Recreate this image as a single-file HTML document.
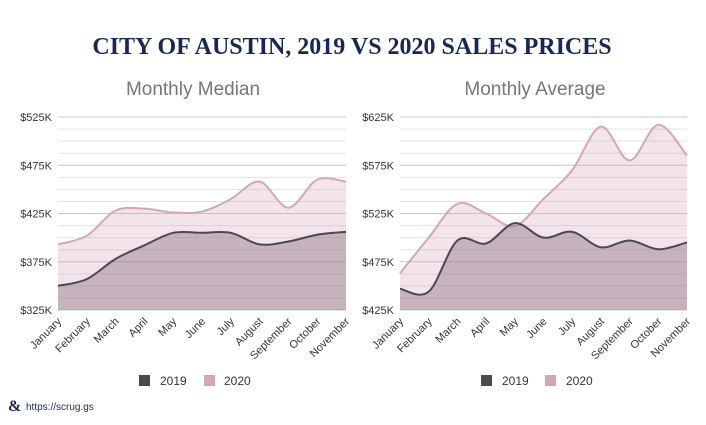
<!DOCTYPE html>
<html><head><meta charset="utf-8"><style>
body{margin:0;width:706px;height:420px;background:#fff;overflow:hidden;font-family:"Liberation Sans",sans-serif}
</style></head><body>
<svg id="s" width="706" height="420" xmlns="http://www.w3.org/2000/svg">
<text x="352" y="54" text-anchor="middle" font-family="Liberation Serif,serif" font-weight="bold" font-size="24" fill="#16275a">CITY OF AUSTIN, 2019 VS 2020 SALES PRICES</text>
<text x="193" y="95" text-anchor="middle" font-size="19" fill="#777">Monthly Median</text>
<text x="535" y="95" text-anchor="middle" font-size="19" fill="#777">Monthly Average</text>
<g>
<rect x="139" y="375" width="11" height="11" fill="#4a4850"/>
<text x="160" y="385" font-size="12" fill="#333">2019</text>
<rect x="204" y="375" width="11" height="11" fill="#d4a6bb"/>
<text x="224" y="385" font-size="12" fill="#333">2020</text>
<rect x="481" y="375" width="11" height="11" fill="#4a4850"/>
<text x="502" y="385" font-size="12" fill="#333">2019</text>
<rect x="545" y="375" width="11" height="11" fill="#d4a6bb"/>
<text x="566" y="385" font-size="12" fill="#333">2020</text>
</g>
<text x="8" y="411" font-family="Liberation Serif,serif" font-weight="bold" font-size="16" fill="#16275a">&amp;</text>
<text x="26" y="410" font-size="10" fill="#16275a">https://scrug.gs</text>
</svg>
<script>
const months=["January","February","March","April","May","June","July","August","September","October","November"];
const median2019=[350,357,378,392,405,405,405,393,396,403,406];
const median2020=[393,402,428,430,426,427,440,458,431,460,458];
const avg2019=[447,444,497,494,515,500,506,490,497,488,495];
const avg2020=[463,500,535,525,512,540,570,615,580,617,585];
const medianTicks=[325,375,425,475,525];
const avgTicks=[425,475,525,575,625];
const NS="http://www.w3.org/2000/svg";
const svg=document.getElementById('s');
function mk(t,a){const e=document.createElementNS(NS,t);for(const k in a)e.setAttribute(k,a[k]);return e;}
function smooth(p){let d="M"+p[0][0]+","+p[0][1];for(let i=0;i<p.length-1;i++){const p0=p[i-1]||p[i],p1=p[i],p2=p[i+1],p3=p[i+2]||p2;
const c1x=p1[0]+(p2[0]-p0[0])/6,c1y=p1[1]+(p2[1]-p0[1])/6,c2x=p2[0]-(p3[0]-p1[0])/6,c2y=p2[1]-(p3[1]-p1[1])/6;
d+=" C"+c1x+","+c1y+" "+c2x+","+c2y+" "+p2[0]+","+p2[1];}return d;}
function chart(prefix,x0,x1,ticks,s19,s20){
  const y0=310,y1=117,mn=ticks[0],mx=ticks[ticks.length-1];
  const Y=v=>y0-(v-mn)/(mx-mn)*(y0-y1);
  const X=i=>x0+i*(x1-x0)/(months.length-1);
  const g=mk('g',{});
  
  
  svg.appendChild(g);
  const step=(ticks[1]-ticks[0])/4;
  for(let v=mn;v<=mx+0.01;v+=step){const major=Math.abs((v-mn)%(ticks[1]-ticks[0]))<0.01;
    const l=mk('line',{x1:x0,x2:x1,y1:Y(v),y2:Y(v),stroke:major?'#c8c8c8':'#e2e2e2','stroke-width':1});
    
    
    g.appendChild(l);}
  ticks.forEach(v=>{const t=mk('text',{x:x0-6,y:Y(v)+4,'text-anchor':'end','font-size':11,fill:'#333'});t.textContent='$'+v+'K';
    
    
    g.appendChild(t);});
  [[s20,'#d4a6bb','rgba(212,166,187,0.3)','series-2020'],[s19,'#4a4850','rgba(120,90,105,0.35)','series-2019']].forEach(([s,c,f,n])=>{
    const pts=s.map((v,i)=>[X(i),Y(v)]);const d=smooth(pts);
    const a=mk('path',{d:d+" L"+x1+","+y0+" L"+x0+","+y0+" Z",fill:f});
    
    
    g.appendChild(a);
    const l=mk('path',{d:d,fill:'none',stroke:c,'stroke-width':2});
    
    
    g.appendChild(l);});
  months.forEach((m,i)=>{const t=mk('text',{x:X(i)+4,y:y0+12,'text-anchor':'end','font-size':11,fill:'#333',transform:'rotate(-45 '+(X(i)+4)+' '+(y0+12)+')'});t.textContent=m;
    
    
    g.appendChild(t);});
}
chart('median',58,346,medianTicks,median2019,median2020);
chart('average',400,687,avgTicks,avg2019,avg2020);
</script>
</body></html>
